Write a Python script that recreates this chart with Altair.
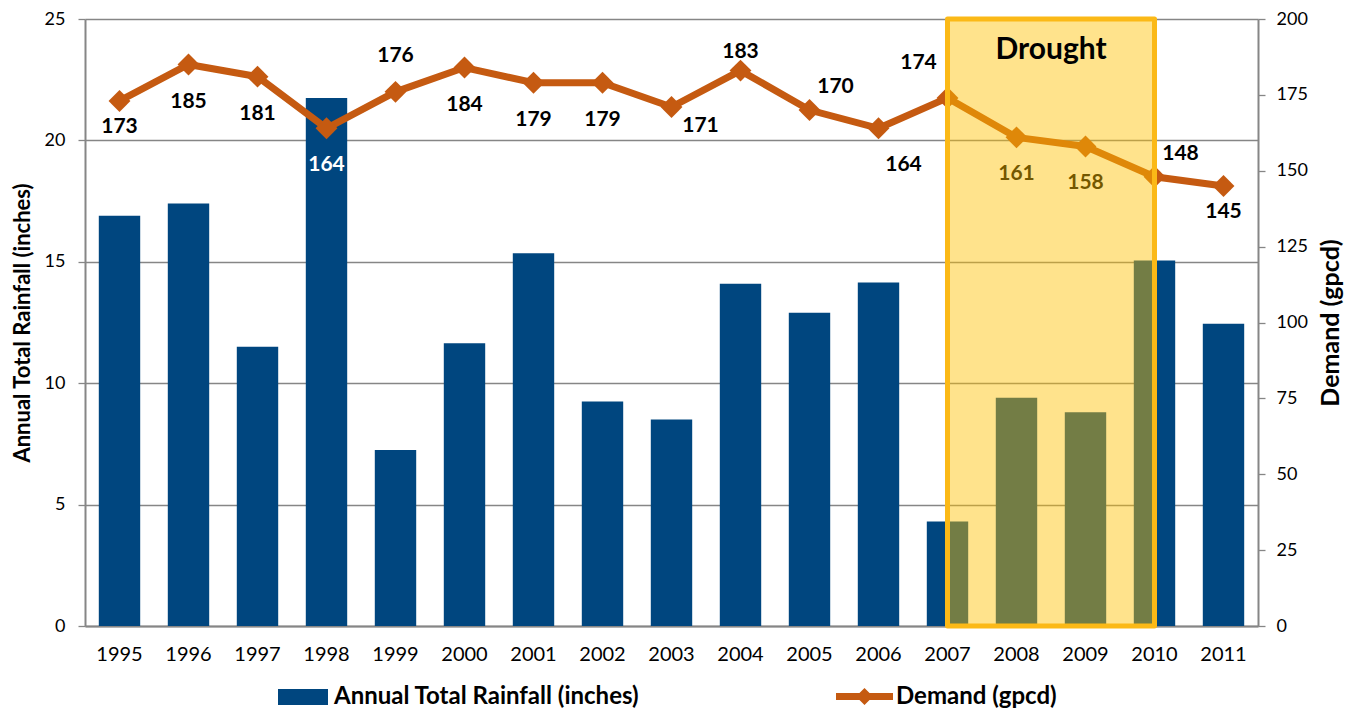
import altair as alt
import pandas as pd

# ---- data ----
years = ["1995", "1996", "1997", "1998", "1999", "2000", "2001", "2002", "2003",
         "2004", "2005", "2006", "2007", "2008", "2009", "2010", "2011"]
rainfall = [16.9, 17.4, 11.5, 21.75, 7.25, 11.65, 15.35, 9.25, 8.5,
            14.1, 12.9, 14.15, 4.3, 9.4, 8.8, 15.05, 12.45]
demand = [173, 185, 181, 164, 176, 184, 179, 179, 171,
          183, 170, 164, 174, 161, 158, 148, 145]
# where each demand label sits relative to its marker
label_place = ["bn", "b", "b", "b", "a", "b", "b", "b", "r",
               "an", "ar", "br", "al", "b", "b", "ar", "bn"]
rain_label = "Annual Total Rainfall (inches)"
demand_label = "Demand (gpcd)"
drought_start = [2007]
drought_end = [2010]
drought_text = ["Drought"]

# ---- styles ----
BLUE = "#00467F"
ORANGE = "#C55A11"
GOLD = "#FFC000"
GOLD_EDGE = "#FBB917"
GRID = "#868686"
FONT = "Lato"
W, H = 1173, 607
PLACE = {"b": (0, 37), "bn": (0, 26), "br": (25, 37), "r": (29, 19),
         "a": (0, -36), "an": (0, -19), "ar": (26, -23), "al": (-29, -35)}

df = pd.DataFrame({"year": years, "rain": rainfall, "demand": demand,
                   "place": label_place})
ddf = pd.DataFrame({"start": drought_start, "end": drought_end,
                    "label": drought_text})

xband = alt.Scale(domain=years, paddingInner=0.4, paddingOuter=0.2)
yrain = alt.Scale(domain=[0, 25], nice=False)
ydem = alt.Scale(domain=[0, 200], nice=False)
xlin = alt.Scale(domain=[1994.5, 2011.5], nice=False, zero=False)

base = alt.Chart(df)

bars = base.transform_calculate(series=f"'{rain_label}'").mark_bar().encode(
    x=alt.X("year:O", scale=xband,
            axis=alt.Axis(title=None, labelAngle=0, ticks=False, tickSize=0,
                          labelPadding=18, labelFontSize=20, labelColor="black",
                          domainColor=GRID, domainWidth=2, grid=False)),
    y=alt.Y("rain:Q", scale=yrain,
            axis=alt.Axis(title=rain_label, values=[0, 5, 10, 15, 20, 25],
                          grid=True, gridColor=GRID, gridWidth=1.3,
                          tickColor=GRID, tickSize=7, tickWidth=1.3,
                          domainColor=GRID, domainWidth=2,
                          labelPadding=13, labelFontSize=18, labelColor="black",
                          titlePadding=10, titleFontSize=22, titleLimit=0,
                          titleFontWeight="bold", titleColor="black")),
    color=alt.Color("series:N", scale=alt.Scale(domain=[rain_label], range=[BLUE]),
                    legend=alt.Legend(orient="none", legendX=193, legendY=653,
                                      title=None, padding=0,
                                      symbolType="M-1,-0.32H1V0.32H-1Z",
                                      symbolSize=2500, symbolStrokeWidth=0,
                                      labelFontSize=24, labelFontWeight="bold",
                                      labelColor="black", labelLimit=0,
                                      labelOffset=6)),
)

line = base.mark_line(strokeWidth=7, color=ORANGE).encode(
    x=alt.X("year:O", scale=xband, axis=None),
    y=alt.Y("demand:Q", scale=ydem,
            axis=alt.Axis(orient="right", title=demand_label,
                          values=[0, 25, 50, 75, 100, 125, 150, 175, 200],
                          grid=False, tickColor=GRID, tickSize=7, tickWidth=1.3,
                          domainColor=GRID, domainWidth=2,
                          labelPadding=11, labelFontSize=18, labelColor="black",
                          titleAngle=270, titleBaseline="top", titleLimit=0,
                          titlePadding=11, titleFontSize=25,
                          titleFontWeight="bold", titleColor="black")),
)

points = base.transform_calculate(series2=f"'{demand_label}'").mark_point(
    shape="diamond", filled=True, size=480, opacity=1, strokeWidth=0).encode(
    x=alt.X("year:O", scale=xband, axis=None),
    y=alt.Y("demand:Q", scale=ydem, axis=None),
    fill=alt.Fill("series2:N", scale=alt.Scale(domain=[demand_label], range=[ORANGE]),
                  legend=alt.Legend(orient="none", legendX=751, legendY=649,
                                    title=None, padding=0,
                                    symbolType="M-1,-0.12H1V0.12H-1Z M-0.3,0L0,-0.3L0.3,0L0,0.3Z",
                                    symbolSize=3249, symbolStrokeWidth=0,
                                    symbolOpacity=1,
                                    labelFontSize=24, labelFontWeight="bold",
                                    labelColor="black", labelLimit=0,
                                    labelOffset=3)),
)

labels = []
for key, (dx, dy) in PLACE.items():
    labels.append(
        base.transform_filter(alt.datum.place == key).mark_text(
            dx=dx, dy=dy, fontSize=21, fontWeight="bold", baseline="middle",
            align="center").encode(
            x=alt.X("year:O", scale=xband, axis=None),
            y=alt.Y("demand:Q", scale=ydem, axis=None),
            text=alt.Text("demand:Q"),
            color=alt.condition(alt.datum.year == "1998",
                                alt.value("white"), alt.value("black")),
        )
    )

overlay = alt.Chart(ddf).mark_rect(fill=GOLD, fillOpacity=0.45, stroke=GOLD_EDGE,
                                   strokeWidth=5, strokeJoin="round").encode(
    x=alt.X("start:Q", scale=xlin, axis=None),
    x2="end:Q",
    y=alt.Y(datum=25, scale=yrain, axis=None),
    y2=alt.datum(0),
)

drought = alt.Chart(ddf).transform_calculate(
    mid="(datum.start + datum.end) / 2").mark_text(
    fontSize=30, fontWeight="bold", color="black", baseline="middle").encode(
    x=alt.X("mid:Q", scale=xlin, axis=None),
    y=alt.value(31),
    text="label:N",
)

chart = alt.layer(bars, line, points, *labels, overlay, drought).resolve_scale(
    x="independent", y="independent"
).properties(
    width=W, height=H,
    autosize=alt.AutoSizeParams(type="none"),
    padding={"left": 77, "top": 11, "right": 92, "bottom": 85},
).configure(font=FONT).configure_view(stroke=None)

chart.save("out.html", embed_options={"renderer": "svg", "actions": False})
